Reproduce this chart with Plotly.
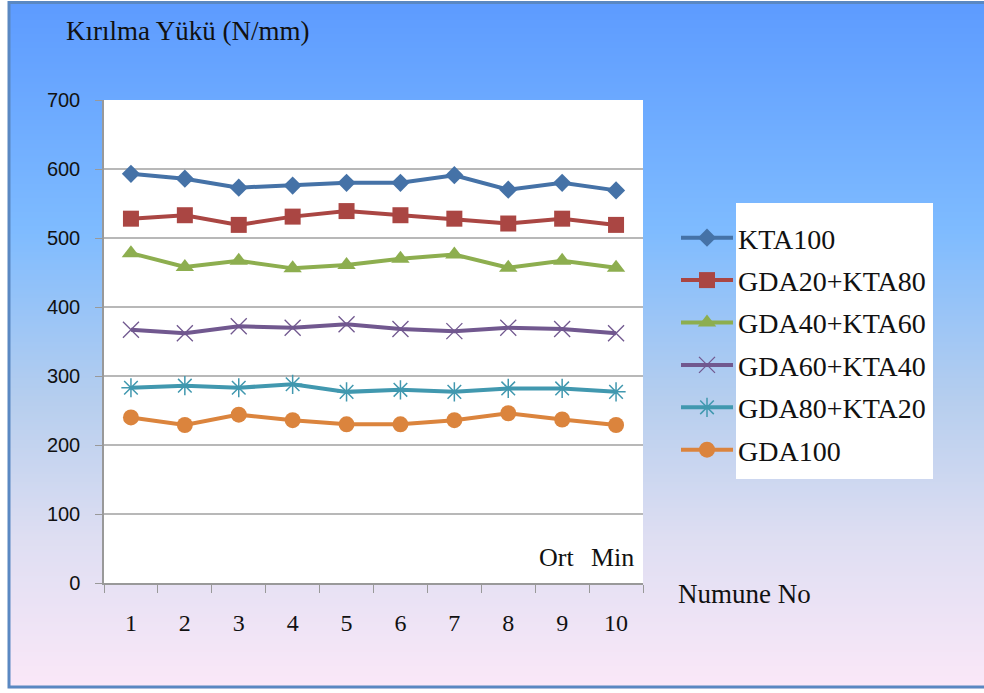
import plotly.graph_objects as go

# Sample numbers (x axis) and breaking load values (N/mm) per mix
numune = ["1", "2", "3", "4", "5", "6", "7", "8", "9", "10"]

kta100 = [593, 586, 573, 576, 580, 580, 591, 570, 580, 569]
gda20_kta80 = [528, 533, 519, 531, 539, 533, 528, 521, 528, 519]
gda40_kta60 = [478, 458, 467, 456, 461, 470, 476, 457, 467, 457]
gda60_kta40 = [367, 362, 372, 370, 375, 368, 365, 370, 368, 362]
gda80_kta20 = [283, 286, 283, 288, 277, 280, 277, 282, 282, 277]
gda100 = [240, 229, 244, 236, 230, 230, 236, 246, 237, 229]

y_ticks = [0, 100, 200, 300, 400, 500, 600, 700]

W, H = 984, 693
L, R, T, B = 104, 341, 100, 110
PW, PH = W - L - R, H - T - B


def px_x(p):
    return (p - L) / PW


def px_y(p):
    return (H - B - p) / PH


series = [
    ("KTA100", kta100, "#4572A7", dict(symbol="diamond", size=14)),
    ("GDA20+KTA80", gda20_kta80, "#AA4643", dict(symbol="square", size=16)),
    ("GDA40+KTA60", gda40_kta60, "#8DAE4F", dict(symbol="triangle-up", size=16)),
    ("GDA60+KTA40", gda60_kta40, "#71588F",
     dict(symbol="x-thin-open", size=16, line=dict(width=1.3, color="#8a72aa"))),
    ("GDA80+KTA20", gda80_kta20, "#4198AF",
     dict(symbol="asterisk-open", size=16, line=dict(width=1.5, color="#4bacc6"))),
    ("GDA100", gda100, "#DB843D", dict(symbol="circle", size=16)),
]

fig = go.Figure()
for i, (name, vals, color, mk) in enumerate(series):
    mk = dict(mk)
    mk.setdefault("color", color)
    fig.add_trace(go.Scatter(
        x=numune, y=vals, name=name, mode="lines+markers",
        line=dict(color=color, width=4), marker=mk,
        legendgroup=f"g{i}",
    ))

shapes = []

# vertical background gradient (blue at top to pale pink at bottom)
stops = [
    (0.00, (93, 155, 255)),
    (0.33, (126, 187, 255)),
    (0.58, (182, 206, 238)),
    (0.78, (222, 222, 242)),
    (1.00, (251, 232, 248)),
]


def grad(t):
    for (t0, c0), (t1, c1) in zip(stops[:-1], stops[1:]):
        if t <= t1:
            f = (t - t0) / (t1 - t0) if t1 > t0 else 0
            return "rgb(%d,%d,%d)" % tuple(round(a + (b - a) * f) for a, b in zip(c0, c1))
    return "rgb(%d,%d,%d)" % stops[-1][1]


top, bot = 2, 688
step = 2
for y0 in range(top, bot, step):
    y1 = min(y0 + step, bot)
    t = (y0 - top) / (bot - top)
    shapes.append(dict(type="rect", xref="paper", yref="paper",
                       x0=px_x(9), x1=px_x(990), y0=px_y(y1 + 0.5), y1=px_y(y0),
                       fillcolor=grad(t), line=dict(width=0), layer="below"))

# white plotting area
shapes.append(dict(type="rect", xref="paper", yref="paper", x0=0, x1=1, y0=0, y1=1,
                   fillcolor="white", line=dict(width=0), layer="below"))

# horizontal grid lines
for v in y_ticks[1:-1]:
    shapes.append(dict(type="line", xref="paper", yref="y", x0=0, x1=1, y0=v, y1=v,
                       line=dict(color="#a0a0a0", width=1.3), layer="below"))

# white box behind legend labels
shapes.append(dict(type="rect", xref="paper", yref="paper",
                   x0=px_x(736), x1=px_x(933), y0=px_y(479), y1=px_y(203),
                   fillcolor="white", line=dict(width=0), layer="below"))

# outer frame
shapes.append(dict(type="rect", xref="paper", yref="paper",
                   x0=px_x(9), x1=px_x(1000), y0=px_y(687), y1=px_y(2.5),
                   fillcolor="rgba(0,0,0,0)", line=dict(color="#5a88c2", width=3),
                   layer="above"))

serif = "Liberation Serif, Times New Roman, serif"
sans = "Liberation Sans, Arial, sans-serif"

annotations = [
    dict(text="Kırılma Yükü (N/mm)", xref="paper", yref="paper",
         x=px_x(64), y=px_y(31), xanchor="left", yanchor="middle", showarrow=False,
         font=dict(family=serif, size=27, color="#111")),
    dict(text="Numune No", xref="paper", yref="paper",
         x=px_x(676), y=px_y(594), xanchor="left", yanchor="middle", showarrow=False,
         font=dict(family=serif, size=27, color="#111")),
    dict(text="Ort", xref="x", yref="y", x=7.9, y=37, showarrow=False,
         font=dict(family=serif, size=26, color="#111")),
    dict(text="Min", xref="x", yref="y", x=8.93, y=37, showarrow=False,
         font=dict(family=serif, size=26, color="#111")),
]

fig.update_layout(
    width=W, height=H,
    margin=dict(l=L, r=R, t=T, b=B, pad=0),
    paper_bgcolor="white", plot_bgcolor="rgba(0,0,0,0)",
    shapes=shapes, annotations=annotations,
    showlegend=True,
    legend=dict(x=px_x(676), y=px_y(213), xanchor="left", yanchor="top",
                bgcolor="rgba(0,0,0,0)", borderwidth=0,
                font=dict(family=serif, size=28, color="#111"),
                itemwidth=52, tracegroupgap=3, itemsizing="trace"),
    xaxis=dict(type="category", tickson="boundaries", ticks="outside", ticklen=8,
               tickcolor="#999", tickwidth=1.3, showline=True, linecolor="#999",
               linewidth=1.5, showgrid=False, range=[-0.5, 9.5],
               tickfont=dict(family=serif, size=24, color="#111"),
               ticklabelstandoff=17),
    yaxis=dict(range=[0, 700], tickvals=y_ticks, ticks="outside", ticklen=7,
               tickcolor="#999", tickwidth=1.3, showline=True, linecolor="#999",
               linewidth=1.5, showgrid=False, zeroline=False,
               tickfont=dict(family=sans, size=20, color="#111"),
               ticklabelstandoff=11),
)

fig.write_html("out.html")
